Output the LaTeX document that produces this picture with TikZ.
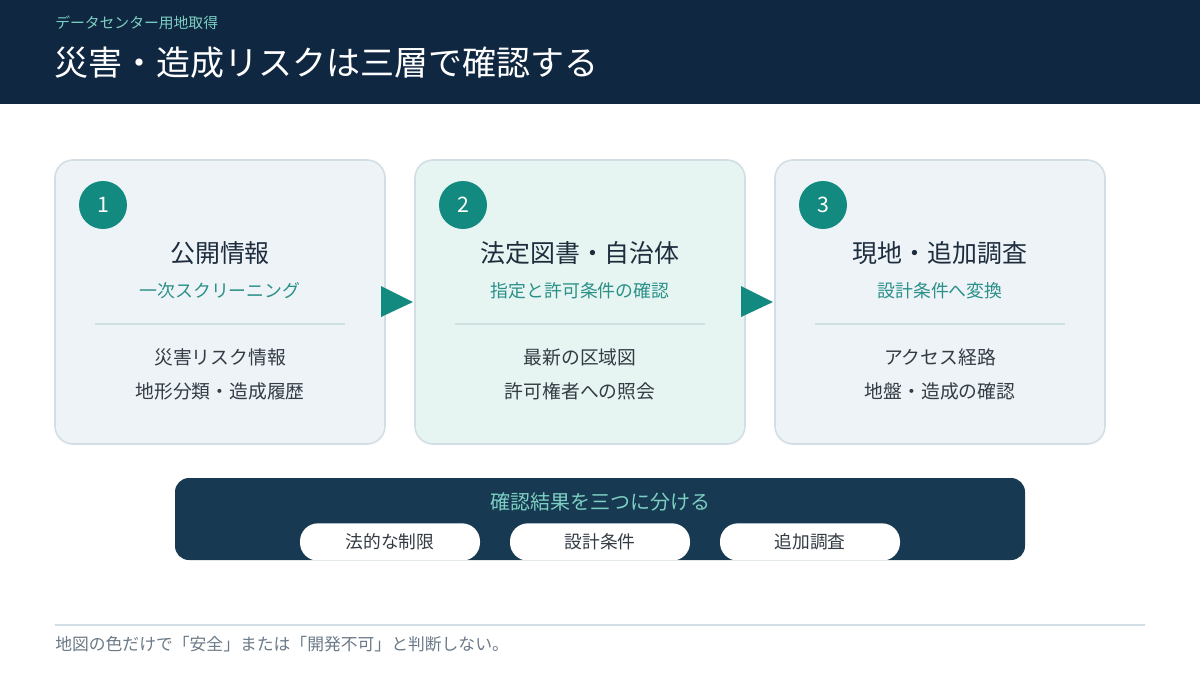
\documentclass[tikz,border=0pt]{standalone}
\usepackage{fontspec}
\setmainfont{Noto Sans CJK JP}
\definecolor{navy}{HTML}{0F2740}
\definecolor{barnavy}{HTML}{173A52}
\definecolor{teal}{HTML}{138A80}
\definecolor{tealtext}{HTML}{2A9088}
\definecolor{lightteal}{HTML}{7CCFC3}
\definecolor{cardA}{HTML}{EEF3F8}
\definecolor{cardB}{HTML}{E7F5F2}
\definecolor{cardline}{HTML}{D2DEE4}
\definecolor{divline}{HTML}{CFE1E0}
\definecolor{darktext}{HTML}{1E2D3D}
\definecolor{bodytext}{HTML}{333B44}
\definecolor{foottext}{HTML}{6B7A88}
\tikzset{
  card/.style={draw=cardline, line width=1.2pt, rounded corners=13.5pt},
  numcirc/.style={circle, fill=teal, minimum size=36pt, inner sep=0pt, text=white, font=\fontsize{16}{16}\selectfont},
  cardtitle/.style={text=darktext, font=\fontsize{18.7}{20}\selectfont, anchor=center},
  cardsub/.style={text=tealtext, font=\fontsize{13.4}{15}\selectfont, anchor=center},
  cardbody/.style={text=bodytext, font=\fontsize{14.1}{16}\selectfont, anchor=center},
  flowarrow/.style={fill=teal},
  pill/.style={fill=white, rounded corners=13.5pt, minimum width=135pt, minimum height=28pt, inner sep=0pt, text=bodytext, font=\fontsize{13.3}{15}\selectfont},
}
\begin{document}
\begin{tikzpicture}[x=0.75pt,y=-0.75pt]
\useasboundingbox (0,0) rectangle (1200,675);
\fill[white] (0,0) rectangle (1200,675);
% header
\fill[navy] (0,0) rectangle (1200,104);
\node[anchor=west, text=lightteal, font=\fontsize{11.1}{13}\selectfont, inner sep=0pt] (kicker) at (55,23) {データセンター用地取得};
\node[anchor=west, text=white, font=\fontsize{25.5}{29}\selectfont, inner sep=0pt] (title) at (54,63) {災害・造成リスクは三層で確認する};
% cards
\foreach \i/\x/\fc/\n/\t/\s/\a/\b in {
  1/55/cardA/1/公開情報/一次スクリーニング/災害リスク情報/地形分類・造成履歴,
  2/415/cardB/2/法定図書・自治体/指定と許可条件の確認/最新の区域図/許可権者への照会,
  3/775/cardA/3/現地・追加調査/設計条件へ変換/アクセス経路/地盤・造成の確認}{
  \draw[card, fill=\fc] (\x,160) rectangle ++(330,284);
  \node[numcirc] (num\i) at (\x+48,205) {\n};
  \node[cardtitle] (ct\i) at (\x+165,253) {\t};
  \node[cardsub] (cs\i) at (\x+165,291) {\s};
  \draw[divline, line width=1pt] (\x+40,324) -- (\x+290,324);
  \node[cardbody] (ba\i) at (\x+165,357) {\a};
  \node[cardbody] (bb\i) at (\x+165,391) {\b};
}
% arrows
\coordinate (a1) at (381,286);
\coordinate (a1t) at (413,302);
\coordinate (a1b) at (381,317);
\fill[flowarrow] (a1) -- (a1t) -- (a1b) -- cycle;
\coordinate (a2) at (741,286);
\coordinate (a2t) at (773,302);
\coordinate (a2b) at (741,317);
\fill[flowarrow] (a2) -- (a2t) -- (a2b) -- cycle;
% bottom bar
\fill[barnavy, rounded corners=10.5pt] (175,478) rectangle (1025,560);
\node[text=lightteal, font=\fontsize{15}{17}\selectfont] (bartitle) at (600,502) {確認結果を三つに分ける};
\begin{scope}
\clip[rounded corners=10.5pt] (175,478) rectangle (1025,560);
\node[pill] (p1) at (390,542) {法的な制限};
\node[pill] (p2) at (600,542) {設計条件};
\node[pill] (p3) at (810,542) {追加調査};
\end{scope}
% footer
\draw[cardline, line width=1.2pt] (55,625) -- (1145,625);
\node[anchor=west, text=foottext, font=\fontsize{12.6}{14}\selectfont, inner sep=0pt] (foot) at (55,644) {地図の色だけで「安全」または「開発不可」と判断しない。};
\end{tikzpicture}
\end{document}
